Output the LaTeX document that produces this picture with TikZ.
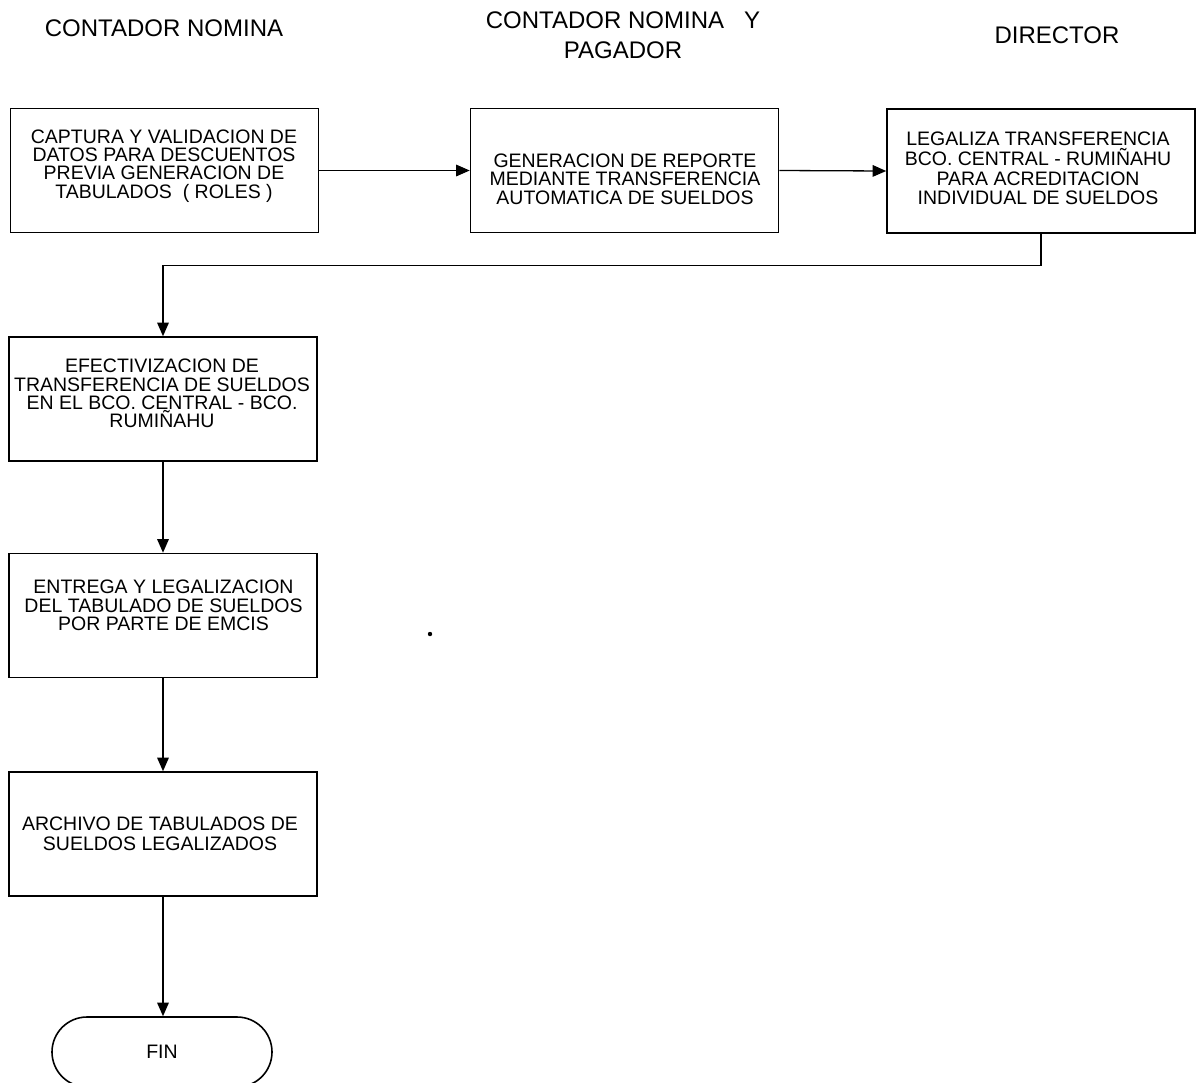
\documentclass[tikz,border=0pt]{standalone}
\usepackage{fontspec}
\setmainfont{Liberation Sans}
\usetikzlibrary{arrows.meta,shapes.misc}

\begin{document}
\begin{tikzpicture}[x=0.5pt,y=-0.5pt,
  box/.style={draw,line width=0.8pt,inner sep=0pt,minimum width=154pt,minimum height=62pt},
  txt/.style={font=\fontsize{9.75pt}{9.2pt}\selectfont,align=center,inner sep=0pt},
  head/.style={font=\fontsize{12pt}{15pt}\selectfont,align=center,inner sep=0pt},
  arr/.style={line width=0.65pt,-{Triangle[length=6.8pt,width=5.8pt]}},
  term/.style={draw,line width=0.8pt,rounded rectangle,inner sep=0pt,minimum width=110pt,minimum height=35pt}]
\useasboundingbox (0,0) rectangle (1198,1082);

% column headings
\node[head] (h1) at (164,28) {CONTADOR NOMINA};
\node[head] (h2) at (623,35.5) {CONTADOR NOMINA\ \ \ Y\\PAGADOR};
\node[head] (h3) at (1057,35) {DIRECTOR};

% process boxes
\node[box] (b1) at (164.5,170.5) {};
\node[box] (b2) at (624.5,170.5) {};
\node[box] (b3) at (1041,171) {};
\node[box] (b4) at (163,399) {};
\node[box] (b5) at (163,615.5) {};
\node[box] (b6) at (163,834) {};
\node[term] (fin) at (162,1052) {};

% box texts
\node[txt] (t1) at (164,166) {CAPTURA Y VALIDACION DE\\DATOS PARA DESCUENTOS\\PREVIA GENERACION DE\\TABULADOS\ \ ( ROLES )};
\node[txt] (t2) at (625,179) {GENERACION DE REPORTE\\MEDIANTE TRANSFERENCIA\\AUTOMATICA DE SUELDOS};
\node[txt,font=\fontsize{9.75pt}{9.8pt}\selectfont] (t3) at (1038,168.5) {LEGALIZA TRANSFERENCIA\\BCO. CENTRAL - RUMIÑAHU\\PARA ACREDITACION\\INDIVIDUAL DE SUELDOS};
\node[txt] (t4) at (162,393.5) {EFECTIVIZACION DE\\TRANSFERENCIA DE SUELDOS\\EN EL BCO. CENTRAL - BCO.\\RUMIÑAHU};
\node[txt] (t5) at (163.5,605.5) {ENTREGA Y LEGALIZACION\\DEL TABULADO DE SUELDOS\\POR PARTE DE EMCIS};
\node[txt,font=\fontsize{9.75pt}{10pt}\selectfont] (t6) at (160,834) {ARCHIVO DE TABULADOS DE\\SUELDOS LEGALIZADOS};
\node[txt] (tf) at (162,1052) {FIN};

% connectors
\draw[arr] (b1.east) -- (b2.west);
\draw[arr] (b2.east) -- (b3.west);
\draw[arr] (b3.south) -- ++(0,32) -| (b4.north);
\draw[arr] (b4.south) -- (b5.north);
\draw[arr] (b5.south) -- (b6.north);
\draw[arr] (b6.south) -- (b6.south |- fin.north);

% stray mark
\fill (430,634) circle[radius=1.1pt];
\end{tikzpicture}
\end{document}
